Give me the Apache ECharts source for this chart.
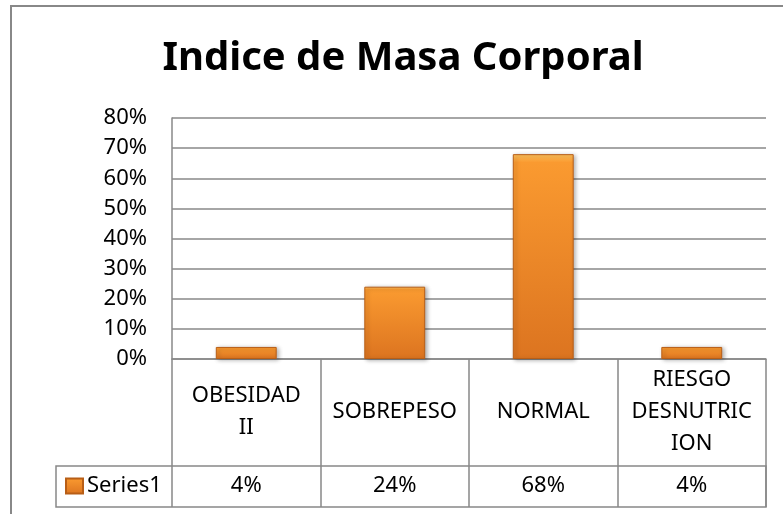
<!DOCTYPE html>
<html>
<head>
<meta charset="utf-8">
<script src="https://cdn.jsdelivr.net/npm/echarts@6/dist/echarts.min.js"></script>
<style>
  html, body { margin: 0; padding: 0; background: #fff; }
  #chart { width: 783px; height: 514px; }
</style>
</head>
<body>
<div id="chart"></div>
<script>
// ----------------------
// DATA
// ----------------------
const categories = ["OBESIDAD\nII", "SOBREPESO", "NORMAL", "RIESGO\nDESNUTRIC\nION"];
const seriesName = "Series1";
const values = [4, 24, 68, 4];
const yTicks = [0, 10, 20, 30, 40, 50, 60, 70, 80];

// ----------------------
// STYLES
// ----------------------
const FONT = "Noto Sans";
const GRAY = "#888888";

const barFill = new echarts.graphic.LinearGradient(0, 0, 0, 1, [
  { offset: 0, color: "#ffc45e" },
  { offset: 0.04, color: "#fa9a30" },
  { offset: 1, color: "#dc7420" },
]);

const chart = echarts.init(document.getElementById("chart"));

chart.setOption({
  animation: false,
  backgroundColor: "#ffffff",
  textStyle: { fontFamily: FONT, color: "#000" },
  title: {
    text: "Indice de Masa Corporal",
    left: 403,
    textAlign: "center",
    top: 39,
    padding: 0,
    textStyle: { fontFamily: FONT, fontSize: 40, fontWeight: "bold", color: "#000" },
  },
  graphic: [
    {
      type: "rect",
      shape: { x: 11, y: 6, width: 820, height: 560 },
      style: { fill: "none", stroke: GRAY, lineWidth: 2 },
      silent: true,
    },
  ],
  legend: {
    left: 65,
    top: 475,
    padding: 0,
    selectedMode: false,
    icon: "rect",
    itemWidth: 17,
    itemHeight: 15,
    itemGap: 4,
    textStyle: { fontFamily: FONT, fontSize: 22, color: "#000", padding: [0, 0, 0, -1] },
    data: [seriesName],
  },
  grid: [
    // plot area
    { left: 172, top: 118, right: 17, bottom: 155, containLabel: false },
    // data table value row (drawn as bordered box)
    {
      left: 56, top: 466, right: 17, height: 41,
      show: true, borderColor: GRAY, borderWidth: 1.5, backgroundColor: "transparent",
    },
  ],
  xAxis: [
    {
      type: "category",
      gridIndex: 0,
      data: categories,
      axisLine: { show: true, lineStyle: { color: GRAY, width: 1.5 } },
      axisTick: { show: true, length: 148, lineStyle: { color: GRAY, width: 1.5 } },
      axisLabel: {
        interval: 0,
        margin: 53,
        verticalAlign: "middle",
        lineHeight: 32,
        fontFamily: FONT,
        fontSize: 22,
        color: "#000",
      },
    },
    {
      type: "category",
      gridIndex: 0,
      data: categories,
      position: "bottom",
      offset: 107,
      axisLine: { show: false },
      axisTick: { show: false },
      axisLabel: {
        interval: 0,
        margin: 20,
        verticalAlign: "middle",
        fontFamily: FONT,
        fontSize: 22,
        color: "#000",
        formatter: (v, i) => values[i] + "%",
      },
    },
    { type: "category", gridIndex: 1, show: false, data: categories },
  ],
  yAxis: [
    {
      type: "value",
      gridIndex: 0,
      min: yTicks[0],
      max: yTicks[yTicks.length - 1],
      interval: yTicks[1] - yTicks[0],
      axisLine: { show: true, lineStyle: { color: GRAY, width: 1.5 } },
      axisTick: { show: false },
      splitLine: { show: true, lineStyle: { color: GRAY, width: 1.5 } },
      axisLabel: {
        margin: 25,
        fontFamily: FONT,
        fontSize: 22,
        color: "#000",
        formatter: "{value}%",
      },
    },
    { type: "value", gridIndex: 1, show: false },
  ],
  series: [
    {
      name: seriesName,
      type: "bar",
      xAxisIndex: 0,
      yAxisIndex: 0,
      data: values,
      barCategoryGap: "59%",
      itemStyle: {
        color: barFill,
        borderColor: "#b85e16",
        borderWidth: 1,
        shadowColor: "rgba(0,0,0,0.3)",
        shadowBlur: 4,
        shadowOffsetX: 2,
        shadowOffsetY: 1,
      },
    },
  ],
});
</script>
</body>
</html>
